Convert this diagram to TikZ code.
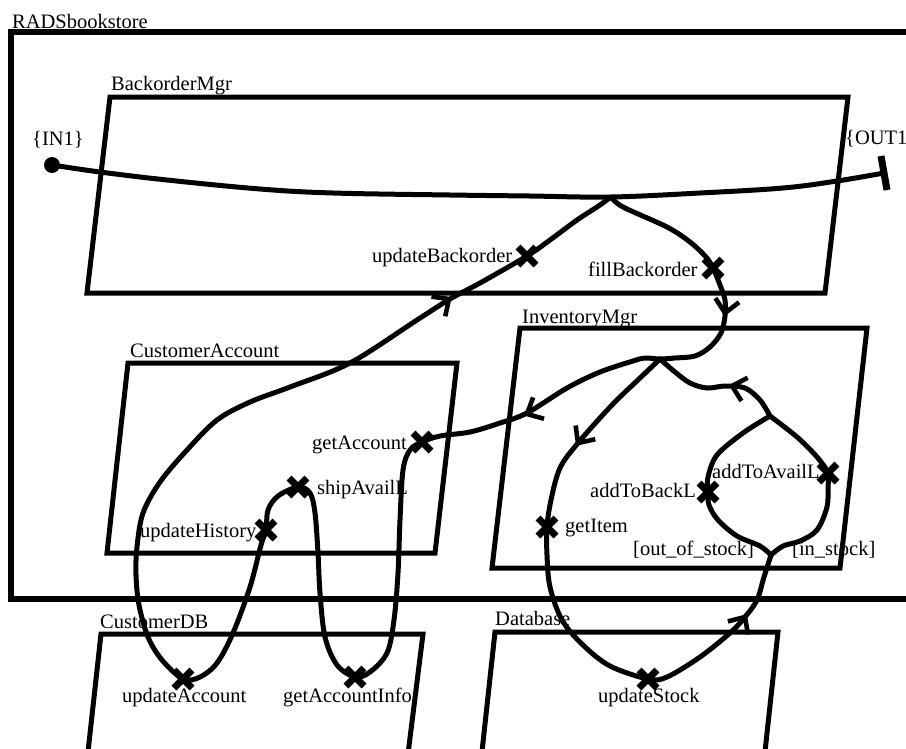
\documentclass[tikz,border=0pt]{standalone}
\usepackage{fontspec}
\setmainfont{Liberation Serif}
\begin{document}
\begin{tikzpicture}[x=1pt,y=-1pt,
  frame/.style={line width=6.5pt, line join=miter},
  comp/.style={line width=5pt, line join=miter},
  ucm/.style={line width=5pt, line cap=round, line join=round},
  lbl/.style={anchor=base west, inner sep=0pt, font=\fontsize{20.5}{24}\selectfont},
  xm/.pic={\draw[line width=7pt] (-9,-9)--(9,9) (-9,9)--(9,-9);},
  chev/.pic={\draw[line width=4.6pt, line join=miter] (-13,-12)--(0,0)--(-13,12);}
]
\useasboundingbox (0,0) rectangle (906,748);
\clip (0,0) rectangle (906,748);

% components
\draw[frame] (930,32)--(11,32)--(11,599)--(930,599);
\draw[comp] (110,97)--(848,97)--(825,293)--(87,293)--cycle;
\draw[comp] (128,363)--(457,363)--(435,553)--(107,553)--cycle;
\draw[comp] (520,328)--(867,328)--(840,568)--(492,568)--cycle;
\draw[comp] (86,770)--(101,634)--(423,634)--(406,770);
\draw[comp] (480,770)--(495,632)--(778,632)--(763,770);

% labels
\node[lbl] (tRADS) at (12,28) {RADSbookstore};
\node[lbl] (tBM) at (111,90) {BackorderMgr};
\node[lbl] (tIN) at (32,145) {\{IN1\}};
\node[lbl] (tOUT) at (845,144) {\{OUT1};
\node[lbl] (tUB) at (372,262) {updateBackorder};
\node[lbl] (tFB) at (588,276) {fillBackorder};
\node[lbl] (tIM) at (522,323) {InventoryMgr};
\node[lbl] (tCA) at (130,357) {CustomerAccount};
\node[lbl] (tGA) at (312,449) {getAccount};
\node[lbl] (tSA) at (317,494) {shipAvailL};
\node[lbl] (tUH) at (140,537) {updateHistory};
\node[lbl] (tCDB) at (100,628) {CustomerDB};
\node[lbl] (tUA) at (122,702) {updateAccount};
\node[lbl] (tGAI) at (283,702) {getAccountInfo};
\node[lbl] (tDB) at (495,625) {Database};
\node[lbl] (tUS) at (598,702) {updateStock};
\node[lbl] (tGI) at (565,532) {getItem};
\node[lbl] (tABL) at (590,497) {addToBackL};
\node[lbl] (tAAL) at (712,478) {addToAvailL};
\node[lbl] (tOOS) at (633,555) {[out\_of\_stock]};
\node[lbl] (tIS) at (792,555) {[in\_stock]};

% path points
\coordinate (in1) at (52,165);
\coordinate (out1) at (884,173);
\coordinate (f1) at (611,197);
\coordinate (J) at (660,359);
\coordinate (F2) at (770,416);
\coordinate (M2) at (771,555);
\coordinate (ub) at (527,256);
\coordinate (fb) at (713,268);
\coordinate (ga) at (422,442);
\coordinate (sa) at (298,487);
\coordinate (uh) at (266,530);
\coordinate (ua) at (183,679);
\coordinate (gai) at (355,677);
\coordinate (abl) at (708,492);
\coordinate (aal) at (828,473);
\coordinate (gi) at (547,527);
\coordinate (us) at (648,679);

% main path
\fill (in1) circle[radius=8];
\draw[ucm] plot[smooth, tension=0.6] coordinates {(in1) (100,172) (167,180) (260,189) (333,193) (450,195) (530,196) (f1) (700,193) (783,188) (837,181) (out1)};
\draw[line width=7pt] (out1) ++(-3,-17) -- ++(6,34);

% big loop
\draw[ucm] plot[smooth, tension=0.55] coordinates {(f1) (623,207) (667,227) (690,242) (706,257) (fb) (720,285) (725,300) (725,316) (721,333) (710,347) (695,356) (675,358) (J) (645,358) (633,361) (600,372) (567,388) (527,413) (500,423) (470,432) (440,436) (ga) (410,450) (403,470) (400,520) (398,573) (394,620) (387,653) (370,672) (gai) (337,665) (325,637) (320,593) (318,553) (315,513) (310,493) (sa) (278,496) (268,510) (uh) (261,545) (250,587) (233,633) (217,663) (200,677) (ua) (162,660) (148,637) (139,605) (136,575) (137,547) (143,513) (160,482) (187,450) (217,420) (250,402) (290,387) (350,363) (417,320) (450,299) (480,283) (ub) (550,240) (577,220) (597,207) (f1)};

% inventory paths
\draw[ucm] plot[smooth, tension=0.55] coordinates {(J) (640,378) (612,405) (578,443) (560,468) (551,500) (gi) (547,555) (550,587) (562,620) (583,645) (610,666) (us) (667,677) (700,657) (730,633) (745,617) (757,600) (764,577) (M2)};
\draw[ucm] plot[smooth, tension=0.55] coordinates {(M2) (760,546) (737,536) (718,520) (709,505) (abl) (708,477) (717,455) (743,433) (F2)};
\draw[ucm] plot[smooth, tension=0.55] coordinates {(M2) (783,546) (800,541) (817,530) (827,507) (828,487) (aal) (817,457) (797,437) (F2)};
\draw[ucm] plot[smooth, tension=0.55] coordinates {(F2) (760,400) (745,388) (725,386) (707,388) (690,383) (675,372) (J)};

% responsibilities
\foreach \p in {ub,fb,ga,sa,uh,ua,gai,abl,aal,gi,us} { \pic at (\p) {xm}; }

% direction arrows
\coordinate (c1) at (449,299);
\coordinate (c2) at (725,313);
\coordinate (c3) at (527,414);
\coordinate (c4) at (578,443);
\coordinate (c5) at (732,386);
\coordinate (c6) at (745,617);
\pic[rotate=35] at (c1) {chev};
\pic[rotate=-100] at (c2) {chev};
\pic[rotate=-153] at (c3) {chev};
\pic[rotate=-125] at (c4) {chev};
\pic[rotate=165] at (c5) {chev};
\pic[rotate=57] at (c6) {chev};
\end{tikzpicture}
\end{document}
